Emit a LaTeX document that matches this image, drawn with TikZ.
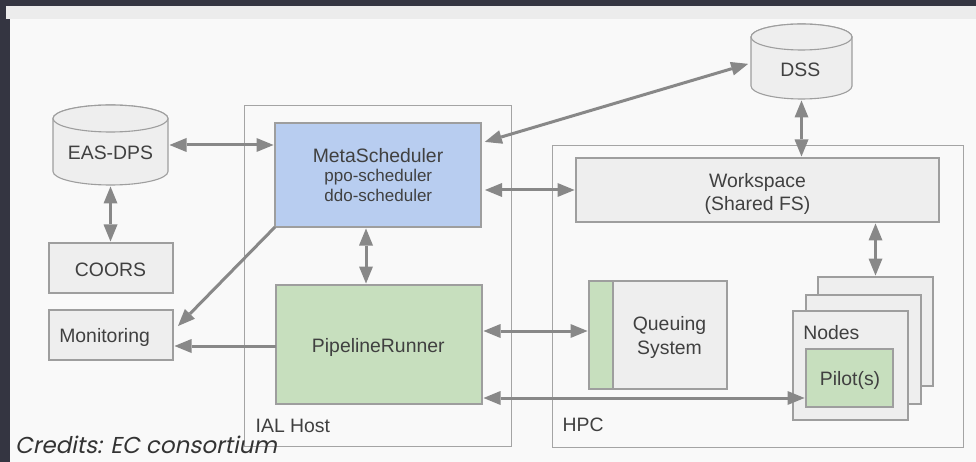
\documentclass[tikz,border=0pt]{standalone}
\usepackage{fontspec}
\setmainfont{Liberation Sans}
\newfontfamily\credfont[FakeSlant=0.2]{Poppins}
\usetikzlibrary{arrows.meta}

\definecolor{outerdark}{HTML}{343541}
\definecolor{band}{HTML}{ECECEC}
\definecolor{canvas}{HTML}{F9F9F9}
\definecolor{boxgray}{HTML}{EEEEEE}
\definecolor{edgegray}{HTML}{9E9E9E}
\definecolor{framegray}{HTML}{A4A4A4}
\definecolor{wiregray}{HTML}{888888}
\definecolor{metablue}{HTML}{B8CDF0}
\definecolor{rungreen}{HTML}{C7DFBE}
\definecolor{ink}{HTML}{404040}

% database cylinder: centre x, top y, x radius, y radius, bottom y
\newcommand\dbcylinder[5]{%
  \path[cylbody] (#1-#3,#2+#4) -- (#1-#3,#5-#4)
    arc[start angle=180,end angle=0,x radius=#3,y radius=#4]
    -- (#1+#3,#2+#4)
    arc[start angle=0,end angle=-180,x radius=#3,y radius=#4] -- cycle;
  \draw[cylbody] (#1,#2+#4) ellipse[x radius=#3,y radius=#4];
}

\begin{document}
\begin{tikzpicture}[x=1pt,y=-1pt,
  every node/.style={inner sep=0pt,outer sep=0pt,text=ink,
    font=\fontsize{19.4}{23}\selectfont},
  smalltext/.style={font=\fontsize{17}{20}\selectfont},
  box/.style={draw=edgegray,line width=1.1pt,fill=boxgray},
  bluebox/.style={box,fill=metablue},
  greenbox/.style={box,fill=rungreen},
  group/.style={draw=framegray,line width=1pt},
  anchorbox/.style={draw=none,fill=none},
  cylbody/.style={draw=edgegray,line width=1.1pt,fill=boxgray},
  wire/.style={draw=wiregray,line width=3pt},
  both/.style={wire,{Triangle[length=17pt,width=14pt,line width=0pt]}-{Triangle[length=17pt,width=14pt,line width=0pt]},
    shorten <=1.5pt,shorten >=1.5pt},
  one/.style={wire,-{Triangle[length=17pt,width=14pt,line width=0pt]}},
]
\useasboundingbox (0,0) rectangle (976,462);

% page frame
\fill[outerdark] (0,0) rectangle (976,462);
\fill[band] (6,6) rectangle (976,19);
\fill[canvas] (10,19) rectangle (976,462);

% host groups
\node[group,minimum width=267pt,minimum height=340pt] (ial) at (377.5,276) {};
\node[group,minimum width=411pt,minimum height=301pt] (hpc) at (757.5,296.5) {};
\node[anchor=base west] at (255.7,432) {IAL Host};
\node[anchor=base west] at (562.7,431.7) {HPC};

% databases
\dbcylinder{110.5}{105}{57.5}{13.5}{185}
\node[anchorbox,minimum width=115pt,minimum height=80pt] (eas) at (110.5,145) {};
\node[anchor=base] at (110.5,159.3) {EAS-DPS};

\dbcylinder{801.5}{24}{50.5}{13}{99}
\node[anchorbox,minimum width=101pt,minimum height=75pt] (dss) at (801.5,61.5) {};
\node[anchor=base] at (800.3,76.8) {DSS};

% left column
\node[box,minimum width=124pt,minimum height=50pt] (coors) at (111,268) {};
\node[anchor=base] at (110.5,276) {COORS};
\node[box,minimum width=124pt,minimum height=50pt] (mon) at (111,335) {};
\node[anchor=base west] at (59.3,342) {Monitoring};

% IAL host components
\node[bluebox,minimum width=206pt,minimum height=104pt] (meta) at (378,175) {};
\node[anchor=base] at (378,163) {MetaScheduler};
\node[smalltext,anchor=base] at (378.3,182) {ppo-scheduler};
\node[smalltext,anchor=base] at (378.3,202) {ddo-scheduler};

\node[greenbox,minimum width=206pt,minimum height=119pt] (pipe) at (379,344.5) {};
\node[anchor=base] at (378.3,352) {PipelineRunner};

% HPC components
\node[box,minimum width=363pt,minimum height=64pt] (ws) at (757.5,190) {};
\node[anchor=base] at (757.5,187.3) {Workspace};
\node[anchor=base] at (757.5,210.5) {(Shared FS)};

\node[box,minimum width=138pt,minimum height=108pt] (queue) at (658,335) {};
\node[greenbox,anchor=north west,minimum width=24pt,minimum height=108pt] (qstrip) at (queue.north west) {};
\node[anchor=base] at (669.5,330) {Queuing};
\node[anchor=base] at (669.5,354) {System};

\node[box,minimum width=115pt,minimum height=109pt] (nback) at (875.5,331.5) {};
\node[box,minimum width=115pt,minimum height=109pt] (nmid) at (863.5,349.5) {};
\node[box,minimum width=115pt,minimum height=109pt] (nodes) at (850.5,365.5) {};
\node[anchor=base west] at (803.3,339.3) {Nodes};
\node[greenbox,minimum width=87pt,minimum height=58pt] (pilot) at (849.5,378) {};
\node[anchor=base] at (850,385.7) {Pilot(s)};

% connectors
\draw[both] (eas.east) -- (eas.east -| meta.west);
\draw[both] (eas.south) -- (eas.south |- coors.north);
\draw[one] (meta.south west) -- ([xshift=5pt,yshift=-16pt]mon.north east);
\coordinate (pm) at ([yshift=-1.5pt]pipe.west);
\draw[one,shorten >=1.5pt] (pm) -- (pm -| mon.east);
\coordinate (mp) at ([xshift=-12pt]meta.south);
\draw[both] (mp) -- (mp |- pipe.north);
\draw[both,shorten <=4pt,shorten >=3pt] ([yshift=32pt]meta.east) -- ([yshift=-1.5pt]dss.west);
\draw[both,shorten <=4pt] (meta.east |- ws.west) -- (ws.west);
\draw[both] (dss.south) -- (dss.south |- ws.north);
\draw[both] (nback.north |- ws.south) -- (nback.north);
\coordinate (pq) at ([yshift=13.5pt]pipe.east);
\draw[both] (pq) -- (pq -| queue.west);
\coordinate (pp) at ([yshift=-53.5pt]pipe.east);
\draw[both] (pp) -- (pp -| pilot.west);

% credit line
\node[anchor=base west,text depth=0pt,font=\credfont\fontsize{23}{26}\selectfont,text=black!80] (credits) at (15,453) {Credits: EC consortium};
\end{tikzpicture}
\end{document}
